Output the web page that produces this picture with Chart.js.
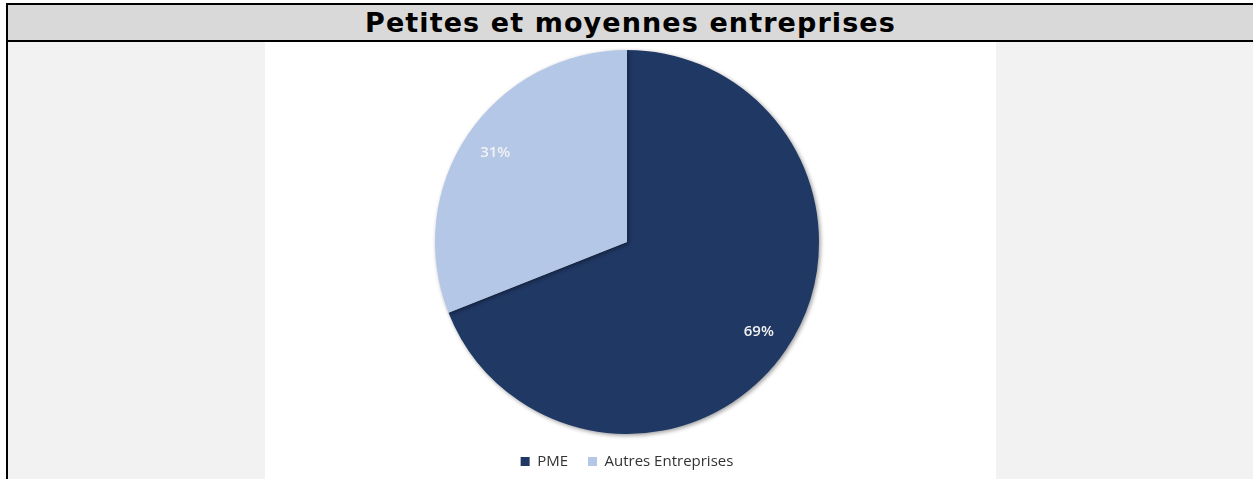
<!DOCTYPE html>
<html lang="fr">
<head>
<meta charset="utf-8">
<title>Petites et moyennes entreprises</title>
<script src="https://cdn.jsdelivr.net/npm/chart.js@4.4.1/dist/chart.umd.min.js"></script>
<style>
    html, body { margin: 0; padding: 0; background: #ffffff; overflow: hidden; }
    #cadre {
        position: absolute; left: 6px; top: 3px; width: 1260px; height: 490px;
        border-left: 2px solid #000; border-top: 2px solid #000;
        background: #f2f2f2;
    }
    #titre {
        height: 35px; line-height: 35px; background: #d9d9d9;
        border-bottom: 2px solid #000;
        font-family: "DejaVu Sans", sans-serif; font-weight: bold; font-size: 27px;
        letter-spacing: 1.1px; text-align: center; color: #000;
        width: 1245px;
    }
    #zone {
        position: absolute; left: 257px; top: 37px; width: 731px; height: 450px;
        background: #ffffff; overflow: hidden;
    }
    #canvas { display: block; }
</style>
</head>
<body>
<div id="cadre">
    <div id="titre">Petites et moyennes entreprises</div>
    <div id="zone"><div style="width:731px;height:437px"><canvas id="canvas"></canvas></div></div>
</div>
<script>
// donnees
var categories = ["PME", "Autres Entreprises"];
var valeurs = [69, 31];
var etiquettes = ["69%", "31%"];
var couleurs = ["#203864", "#b4c7e7"];

// ombre sous le camembert
var ombre = {
    id: "ombre",
    beforeDatasetDraw: function (chart) {
        var ctx = chart.ctx;
        ctx.save();
        ctx.shadowColor = "rgba(0,0,0,0.4)";
        ctx.shadowBlur = 4;
        ctx.shadowOffsetX = 1.5;
        ctx.shadowOffsetY = 1.5;
    },
    afterDatasetDraw: function (chart) {
        chart.ctx.restore();
    }
};

// pourcentages dans les parts
var etiquettesParts = {
    id: "etiquettesParts",
    afterDatasetsDraw: function (chart) {
        var ctx = chart.ctx;
        var arcs = chart.getDatasetMeta(0).data;
        ctx.save();
        ctx.font = "600 15px 'Open Sans'";
        ctx.fillStyle = "#f2f2f2";
        ctx.textAlign = "center";
        ctx.textBaseline = "middle";
        for (var i = 0; i < arcs.length; i++) {
            var a = arcs[i];
            var mid = (a.startAngle + a.endAngle) / 2;
            var r = a.outerRadius * 0.83;
            ctx.fillText(etiquettes[i], a.x + Math.cos(mid) * r, a.y + Math.sin(mid) * r);
        }
        ctx.restore();
    }
};

var chart = new Chart(document.getElementById("canvas"), {
    type: "pie",
    data: {
        labels: categories,
        datasets: [{
            data: valeurs,
            backgroundColor: couleurs,
            borderWidth: 0
        }]
    },
    options: {
        responsive: true,
        maintainAspectRatio: false,
        animation: false,
        layout: { padding: { top: 8, right: 7 } },
        plugins: {
            tooltip: { enabled: false },
            legend: {
                position: "bottom",
                labels: {
                    boxWidth: 9,
                    boxHeight: 9,
                    padding: 20,
                    color: "#333333",
                    font: { family: "'Open Sans'", size: 15 }
                }
            }
        }
    },
    plugins: [ombre, etiquettesParts]
});
</script>
</body>
</html>
